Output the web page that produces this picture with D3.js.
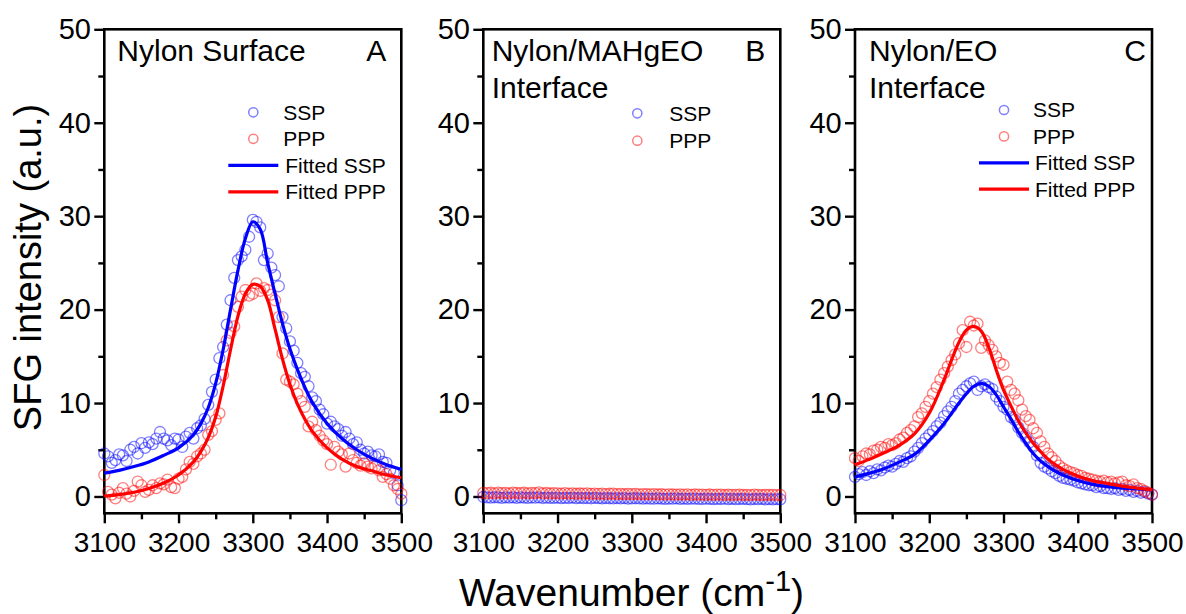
<!DOCTYPE html>
<html>
<head>
<meta charset="utf-8">
<script src="https://cdn.jsdelivr.net/npm/d3@7"></script>
<style>
  body { margin: 0; background: #fff; }
  svg text { font-family: "Liberation Sans", Arial, sans-serif; fill: #000; }
</style>
</head>
<body>
<div id="chart"></div>
<script>
// measured wavenumbers (cm-1), same grid for every spectrum
const wavenumber = [
  3100, 3105, 3110, 3115, 3120, 3125, 3130, 3135, 3140, 3145,
  3150, 3155, 3160, 3165, 3170, 3175, 3180, 3185, 3190, 3195,
  3200, 3205, 3210, 3215, 3220, 3225, 3230, 3235, 3240, 3245,
  3250, 3255, 3260, 3265, 3270, 3275, 3280, 3285, 3290, 3295,
  3300, 3305, 3310, 3315, 3320, 3325, 3330, 3335, 3340, 3345,
  3350, 3355, 3360, 3365, 3370, 3375, 3380, 3385, 3390, 3395,
  3400, 3405, 3410, 3415, 3420, 3425, 3430, 3435, 3440, 3445,
  3450, 3455, 3460, 3465, 3470, 3475, 3480, 3485, 3490, 3495,
  3500
];

// A: Nylon surface
const aSSP = [
  4.6, 4.3, 3.6, 3.9, 4.5, 4.4, 3.8, 5.0, 5.3, 4.6,
  5.7, 5.2, 5.8, 5.6, 6.2, 6.9, 6.2, 6.0, 5.5, 6.2,
  6.1, 5.3, 6.4, 6.8, 6.2, 7.3, 7.6, 8.3, 9.8, 11.2,
  12.5, 14.8, 16.0, 18.4, 21.0, 23.4, 25.3, 25.7, 26.4, 27.8,
  29.6, 29.4, 28.8, 25.3, 26.0, 24.5, 23.7, 22.5, 19.2, 18.0,
  16.6, 15.6, 14.3, 13.2, 12.8, 11.8, 10.6, 10.2, 9.3, 8.8,
  7.8, 8.0, 7.5, 7.2, 6.5, 6.9, 6.2, 5.6, 5.8, 5.0,
  4.6, 4.8, 4.4, 4.3, 4.5, 3.7, 3.6, 2.8, 2.5, 1.2,
  -0.4
];
const aPPP = [
  2.3, 0.5, 0.2, -0.2, 0.4, 0.9, 0.3, 0.0, 0.6, 1.6,
  1.2, 0.5, 0.7, 1.2, 0.9, 1.4, 1.3, 1.8, 1.0, 0.9,
  1.9, 2.1, 2.9, 3.7, 3.5, 4.3, 4.6, 5.0, 6.6, 7.0,
  8.2, 8.9, 13.0, 16.7, 17.5, 18.2, 20.3, 21.4, 22.1, 21.5,
  21.7, 22.8, 22.0, 22.3, 22.1, 21.6, 21.0, 19.2, 15.3, 12.5,
  12.3, 12.0, 11.0, 10.2, 9.6, 7.5, 8.0, 7.1, 6.5, 6.0,
  5.6, 3.4, 5.3, 4.8, 4.5, 3.2, 4.6, 3.9, 3.6, 3.3,
  3.55, 3.2, 3.0, 3.2, 2.8, 2.1, 2.4, 1.9, 1.2, 0.8,
  0.3
];

// B: Nylon/MAHgEO interface
const bSSP = [
  -0.05, -0.1, -0.12, -0.08, -0.1, -0.15, -0.1, -0.12, -0.09, -0.14,
  -0.1, -0.12, -0.15, -0.11, -0.13, -0.1, -0.16, -0.12, -0.14, -0.15,
  -0.13, -0.17, -0.14, -0.16, -0.12, -0.18, -0.15, -0.17, -0.16, -0.19,
  -0.15, -0.18, -0.2, -0.17, -0.19, -0.21, -0.18, -0.2, -0.17, -0.22,
  -0.2, -0.19, -0.21, -0.23, -0.2, -0.22, -0.24, -0.21, -0.23, -0.25,
  -0.22, -0.24, -0.21, -0.25, -0.23, -0.26, -0.24, -0.22, -0.25, -0.27,
  -0.24, -0.26, -0.28, -0.25, -0.27, -0.24, -0.28, -0.26, -0.29, -0.27,
  -0.25, -0.28, -0.3, -0.27, -0.29, -0.26, -0.3, -0.28, -0.31, -0.29,
  -0.3
];
const bPPP = [
  0.38, 0.35, 0.4, 0.33, 0.42, 0.36, 0.39, 0.34, 0.41, 0.37,
  0.35, 0.4, 0.33, 0.38, 0.36, 0.43, 0.34, 0.37, 0.32, 0.36,
  0.34, 0.31, 0.35, 0.3, 0.33, 0.29, 0.32, 0.3, 0.34, 0.28,
  0.31, 0.27, 0.3, 0.26, 0.29, 0.31, 0.25, 0.28, 0.24, 0.27,
  0.25, 0.28, 0.23, 0.26, 0.24, 0.22, 0.25, 0.21, 0.24, 0.2,
  0.23, 0.21, 0.19, 0.22, 0.2, 0.23, 0.18, 0.21, 0.19, 0.2,
  0.18, 0.21, 0.17, 0.2, 0.19, 0.16, 0.2, 0.18, 0.17, 0.19,
  0.16, 0.18, 0.15, 0.19, 0.17, 0.15, 0.18, 0.16, 0.17, 0.15,
  0.16
];

// C: Nylon/EO interface
const cSSP = [
  2.1, 2.4, 2.6, 2.3, 2.7, 2.5, 2.9, 2.8, 3.1, 3.3,
  3.2, 3.5, 3.8, 3.7, 4.1, 4.3, 4.8, 5.2, 5.7, 6.2,
  6.6, 7.0, 7.5, 7.9, 8.6, 9.1, 9.6, 10.2, 11.0, 11.4,
  11.8, 12.1, 12.3, 11.4, 11.8, 12.0, 11.7, 11.5, 10.7, 10.2,
  9.6, 9.3, 8.5, 8.2, 7.4, 6.8, 6.3, 5.8, 5.3, 4.4,
  3.6, 3.2, 3.0, 2.7, 2.5, 2.2, 2.0, 1.9, 1.8, 1.7,
  1.5, 1.4, 1.3, 1.2, 1.2, 1.0, 1.1, 0.9, 0.9, 0.8,
  0.9, 0.7, 0.8, 0.6, 0.7, 0.5, 0.6, 0.4, 0.5, 0.3,
  0.2
];
const cPPP = [
  4.1, 3.8, 4.3, 4.6, 4.5, 4.9, 5.0, 5.3, 5.2, 5.6,
  5.5, 5.7, 6.1, 6.3, 6.8, 7.1, 7.5, 8.5, 8.9, 9.6,
  10.2, 11.0, 11.7, 12.5, 13.2, 13.9, 14.6, 15.2, 16.4, 17.8,
  16.0, 18.7, 18.3, 18.5, 15.9, 16.7, 16.2, 15.7, 15.0, 14.3,
  14.1, 12.3, 11.4, 11.0, 10.3, 9.3, 8.6, 8.2, 7.3, 6.8,
  5.9, 5.3, 4.6, 4.2, 3.8, 3.3, 3.0, 2.8, 2.6, 2.5,
  2.3, 2.2, 2.0, 1.9, 1.8, 1.7, 1.6, 1.7, 1.5, 1.6,
  1.4, 1.5, 1.6, 1.2, 1.1, 1.3, 0.9, 0.8, 0.6, 0.4,
  0.2
];

// fitted curves
const fitX = [3100, 3120, 3140, 3160, 3180, 3200,
  3220, 3230, 3240, 3250, 3260, 3270, 3280, 3290, 3300, 3310, 3320, 3330, 3340, 3350, 3360, 3370, 3380,
  3400, 3420, 3440, 3460, 3480, 3500];
const aFitSSP = [2.5, 2.8, 3.2, 3.7, 4.4, 5.2,
  6.6, 7.8, 9.5, 12.1, 15.7, 20.0, 24.2, 27.6, 29.4, 28.6, 25.0, 21.7, 18.5, 15.8, 13.6, 11.7, 10.1,
  7.8, 6.2, 5.0, 4.1, 3.4, 2.9];
const aFitPPP = [0.05, 0.2, 0.45, 0.85, 1.45, 2.3,
  3.7, 4.8, 6.3, 8.5, 11.8, 15.7, 19.3, 21.7, 22.7, 22.5, 21.0, 17.9, 14.7, 12.0, 9.9, 8.3, 7.0,
  5.2, 4.0, 3.2, 2.75, 2.3, 2.0];
const cFitSSP = [2.1, 2.5, 3.0, 3.7, 4.5, 6.0,
  7.8, 8.9, 10.0, 11.0, 11.8, 12.1, 11.8, 10.9, 9.6, 8.3, 6.9, 5.7, 4.6, 3.8, 3.2, 2.7, 2.3,
  1.7, 1.3, 1.05, 0.9, 0.8, 0.7];
const cFitPPP = [3.4, 4.0, 4.7, 5.5, 6.7, 8.9,
  12.5, 14.6, 16.5, 17.8, 18.2, 17.7, 16.0, 13.6, 11.4, 9.7, 8.1, 6.8, 5.7, 4.8, 4.0, 3.4, 2.9,
  2.2, 1.7, 1.4, 1.1, 0.9, 0.7];

const yTicks = [0, 10, 20, 30, 40, 50];
const yMinor = [5, 15, 25, 35, 45];
const xTicks = [3100, 3200, 3300, 3400, 3500];
const xMinor = [3150, 3250, 3350, 3450];

const blue = '#0000ff', red = '#ff0000';

// layout
const width = 1186, height = 614;
const plotTop = 29.3, plotBottom = 513.3, plotW = 297;

const panels = [
  { left: 104.3, title: ['Nylon Surface'], titleDx: 13, letter: 'A', letterDx: 15,
    ssp: aSSP, ppp: aPPP, fitSSP: aFitSSP, fitPPP: aFitPPP,
    leg: { y0: 112.3, dy: 26.5, circle: 148, text: 118 } },
  { left: 483.3, title: ['Nylon/MAHgEO', 'Interface'], titleDx: 8.4, letter: 'B', letterDx: 15,
    ssp: bSSP, ppp: bPPP, fitSSP: null, fitPPP: null,
    leg: { y0: 113.3, dy: 27.4, circle: 143, text: 111 } },
  { left: 855, title: ['Nylon/EO', 'Interface'], titleDx: 14, letter: 'C', letterDx: 6,
    ssp: cSSP, ppp: cPPP, fitSSP: cFitSSP, fitPPP: cFitPPP,
    leg: { y0: 110, dy: 26.4, circle: 148, text: 119 } }
];

const svg = d3.select('#chart').append('svg')
  .attr('width', width).attr('height', height);

const y = d3.scaleLinear().domain([-1.8, 50]).range([plotBottom, plotTop]);

panels.forEach(p => {
  const x = d3.scaleLinear().domain([3100, 3500]).range([p.left, p.left + plotW]);
  const g = svg.append('g');

  // axes
  const gy = g.append('g').attr('transform', `translate(${p.left},0)`)
    .call(d3.axisLeft(y).tickValues(yTicks).tickSize(10).tickSizeOuter(0).tickPadding(3.3));
  g.append('g').attr('transform', `translate(${p.left},0)`)
    .call(d3.axisLeft(y).tickValues(yMinor).tickSize(6).tickSizeOuter(0).tickFormat(''));
  const gx = g.append('g').attr('transform', `translate(0,${plotBottom})`)
    .call(d3.axisBottom(x).tickValues(xTicks).tickSize(10).tickSizeOuter(0).tickPadding(9)
      .tickFormat(d3.format('d')));
  g.append('g').attr('transform', `translate(0,${plotBottom})`)
    .call(d3.axisBottom(x).tickValues(xMinor).tickSize(6).tickSizeOuter(0).tickFormat(''));
  g.selectAll('.domain').remove();
  g.selectAll('.tick line').attr('stroke', '#000').attr('stroke-width', 2.4);
  g.selectAll('g').attr('font-family', null).attr('font-size', null);
  gy.selectAll('text').style('font-size', '29px');
  gx.selectAll('text').style('font-size', '28px');

  g.append('rect')
    .attr('x', p.left).attr('y', plotTop)
    .attr('width', plotW).attr('height', plotBottom - plotTop)
    .attr('fill', 'none').attr('stroke', '#000').attr('stroke-width', 2.6);

  // scatter points
  const series = [{ vals: p.ssp, color: blue }, { vals: p.ppp, color: red }];
  series.forEach(s => {
    g.append('g').selectAll('circle')
      .data(wavenumber.map((w, i) => [w, s.vals[i]]))
      .join('circle')
      .attr('cx', d => x(d[0]))
      .attr('cy', d => y(d[1]))
      .attr('r', 5.5)
      .attr('fill', 'none')
      .attr('stroke', s.color)
      .attr('stroke-opacity', 0.5)
      .attr('stroke-width', 1.3);
  });

  // fitted lines
  const line = d3.line().x(d => x(d[0])).y(d => y(d[1])).curve(d3.curveCatmullRom.alpha(0.5));
  [{ vals: p.fitSSP, color: blue }, { vals: p.fitPPP, color: red }].forEach(f => {
    if (!f.vals) return;
    g.append('path')
      .datum(fitX.map((w, i) => [w, f.vals[i]]))
      .attr('d', line)
      .attr('fill', 'none')
      .attr('stroke', f.color)
      .attr('stroke-width', 3.2);
  });

  // panel title and letter
  p.title.forEach((t, i) => {
    g.append('text')
      .attr('x', p.left + p.titleDx)
      .attr('y', 60.7 + i * 37.5)
      .style('font-size', '30px')
      .text(t);
  });
  g.append('text')
    .attr('x', p.left + plotW - p.letterDx)
    .attr('y', 60.7)
    .attr('text-anchor', 'end')
    .style('font-size', '30px')
    .text(p.letter);

  // legend
  const right = p.left + plotW;
  const items = [
    { label: 'SSP', color: blue, kind: 'circle' },
    { label: 'PPP', color: red, kind: 'circle' }
  ];
  if (p.fitSSP) {
    items.push({ label: 'Fitted SSP', color: blue, kind: 'line' });
    items.push({ label: 'Fitted PPP', color: red, kind: 'line' });
  }
  items.forEach((it, i) => {
    const ly = p.leg.y0 + i * p.leg.dy;
    if (it.kind === 'circle') {
      g.append('circle')
        .attr('cx', right - p.leg.circle).attr('cy', ly).attr('r', 4.6)
        .attr('fill', 'none').attr('stroke', it.color)
        .attr('stroke-opacity', 0.5).attr('stroke-width', 1.5);
    } else {
      g.append('line')
        .attr('x1', right - p.leg.circle - 25).attr('x2', right - p.leg.circle + 25)
        .attr('y1', ly).attr('y2', ly)
        .attr('stroke', it.color).attr('stroke-width', 3.2);
    }
    g.append('text')
      .attr('x', right - p.leg.text + (it.kind === 'line' ? 2 : 0))
      .attr('y', ly)
      .attr('dy', '0.35em')
      .style('font-size', '21px')
      .text(it.label);
  });
});

// axis titles
svg.append('text')
  .attr('transform', 'translate(41,267.5) rotate(-90)')
  .attr('text-anchor', 'middle')
  .style('font-size', '38px')
  .text('SFG intensity (a.u.)');

const xt = svg.append('text')
  .attr('x', 631.5).attr('y', 606)
  .attr('text-anchor', 'middle')
  .style('font-size', '39px');
xt.append('tspan').text('Wavenumber (cm');
xt.append('tspan').attr('dy', -15).style('font-size', '29px').text('-1');
xt.append('tspan').attr('dy', 15).text(')');
</script>
</body>
</html>
